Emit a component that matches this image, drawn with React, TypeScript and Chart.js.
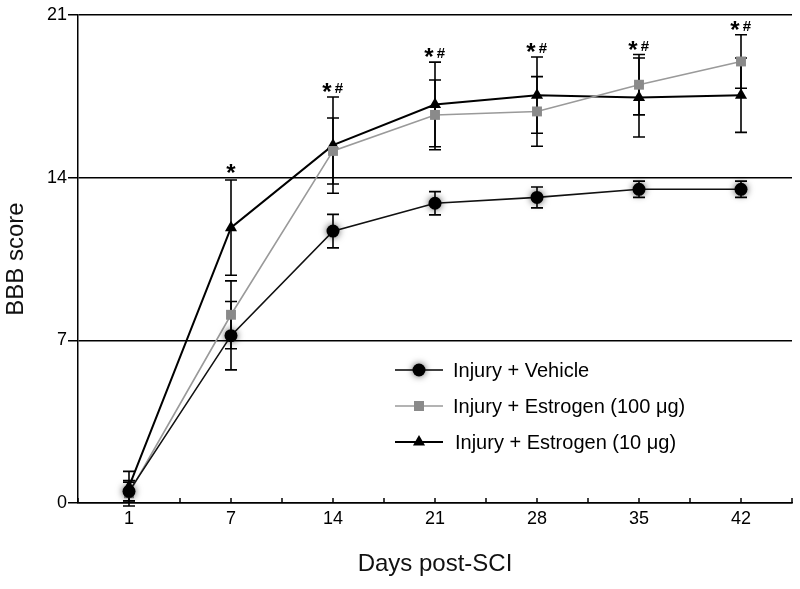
import { useEffect, useRef } from "react";
import { Chart, registerables } from "chart.js";

Chart.register(...registerables);

const days = ["1", "7", "14", "21", "28", "35", "42"];
const vehicle = [0.5, 7.2, 11.7, 12.9, 13.15, 13.5, 13.5];
const vehicleErr = [0.4, 1.47, 0.72, 0.5, 0.45, 0.35, 0.35];
const estrogen100 = [0.42, 8.1, 15.15, 16.7, 16.85, 18.0, 19.0];
const estrogen100Err = [0.55, 1.46, 1.42, 1.5, 1.5, 1.3, 1.15];
const estrogen10 = [0.7, 11.85, 15.4, 17.15, 17.55, 17.45, 17.55];
const estrogen10Err = [0.66, 2.05, 2.07, 1.82, 1.64, 1.7, 1.6];
const significance = ["", "*", "*#", "*#", "*#", "*#", "*#"];
const yTicks = [0, 7, 14, 21];
const legendLabels = [
  "Injury + Vehicle",
  "Injury + Estrogen (100 \u03bcg)",
  "Injury + Estrogen (10 \u03bcg)",
];

const FONT = "'Liberation Sans', Arial, Helvetica, sans-serif";
const GREY_LINE = "#9a9a9a";
const GREY_MARK = "#8a8a8a";

const toXY = (arr: number[]) => arr.map((v, i) => ({ x: i, y: v }));

const seriesForErrors = [
  { values: vehicle, errs: vehicleErr },
  { values: estrogen100, errs: estrogen100Err },
  { values: estrogen10, errs: estrogen10Err },
];

function drawMarker(ctx: CanvasRenderingContext2D, kind: string, x: number, y: number) {
  ctx.save();
  if (kind === "circle") {
    ctx.shadowColor = "rgba(0,0,0,0.65)";
    ctx.shadowBlur = 7;
    ctx.fillStyle = "#000";
    ctx.beginPath();
    ctx.arc(x, y, 6.5, 0, Math.PI * 2);
    ctx.fill();
  } else if (kind === "rect") {
    ctx.fillStyle = GREY_MARK;
    ctx.fillRect(x - 5, y - 5, 10, 10);
  } else {
    ctx.fillStyle = "#000";
    const r = 7;
    ctx.beginPath();
    ctx.moveTo(x, y - r);
    ctx.lineTo(x + r * 0.866, y + r * 0.5);
    ctx.lineTo(x - r * 0.866, y + r * 0.5);
    ctx.closePath();
    ctx.fill();
  }
  ctx.restore();
}

const customPlugin = {
  id: "custom",
  beforeDatasetsDraw(chart: any) {
    const { ctx } = chart;
    const xs = chart.scales.x;
    const ys = chart.scales.y;
    ctx.save();
    ctx.strokeStyle = "#000";
    ctx.lineWidth = 1.6;
    seriesForErrors.forEach(({ values, errs }) => {
      values.forEach((v, i) => {
        const x = xs.getPixelForValue(i);
        const yt = ys.getPixelForValue(v + errs[i]);
        const yb = ys.getPixelForValue(v - errs[i]);
        ctx.beginPath();
        ctx.moveTo(x, yt);
        ctx.lineTo(x, yb);
        ctx.moveTo(x - 6, yt);
        ctx.lineTo(x + 6, yt);
        ctx.moveTo(x - 6, yb);
        ctx.lineTo(x + 6, yb);
        ctx.stroke();
      });
    });
    ctx.restore();
  },
  beforeDatasetDraw(chart: any, args: any) {
    if (args.index === 0) {
      const { ctx } = chart;
      ctx.save();
      ctx.shadowColor = "rgba(0,0,0,0.65)";
      ctx.shadowBlur = 7;
    }
  },
  afterDatasetDraw(chart: any, args: any) {
    if (args.index === 0) chart.ctx.restore();
  },
  afterDraw(chart: any) {
    const { ctx, chartArea } = chart;
    const xs = chart.scales.x;
    const ys = chart.scales.y;
    ctx.save();
    // inward x tick marks
    ctx.strokeStyle = "#000";
    ctx.lineWidth = 1.5;
    xs.ticks.forEach((t: any) => {
      const x = xs.getPixelForValue(t.value);
      ctx.beginPath();
      ctx.moveTo(x, chartArea.bottom);
      ctx.lineTo(x, chartArea.bottom - 5);
      ctx.stroke();
    });
    // significance marks
    ctx.fillStyle = "#000";
    ctx.textAlign = "center";
    ctx.textBaseline = "alphabetic";
    significance.forEach((s, i) => {
      if (!s) return;
      let top = -Infinity;
      seriesForErrors.forEach(({ values, errs }) => {
        top = Math.max(top, values[i] + errs[i]);
      });
      const x = xs.getPixelForValue(i);
      const cap = ys.getPixelForValue(top);
      if (s.length === 1) {
        ctx.font = `bold 24px ${FONT}`;
        ctx.fillText("*", x, cap + 1);
      } else {
        ctx.font = `bold 24px ${FONT}`;
        ctx.fillText("*", x - 6, cap + 3);
        ctx.font = `bold 15px ${FONT}`;
        ctx.fillText("#", x + 6, cap - 4);
      }
    });
    // legend
    const lx = 395;
    const ly = 370;
    const gap = 36;
    const kinds = ["circle", "rect", "triangle"];
    const colors = ["#000", GREY_LINE, "#000"];
    const widths = [1.5, 1.5, 2];
    legendLabels.forEach((label, i) => {
      const y = ly + i * gap;
      ctx.strokeStyle = colors[i];
      ctx.lineWidth = widths[i];
      ctx.beginPath();
      ctx.moveTo(lx, y);
      ctx.lineTo(lx + 48, y);
      ctx.stroke();
      drawMarker(ctx, kinds[i], lx + 24, y);
      ctx.fillStyle = "#000";
      ctx.font = `20px ${FONT}`;
      ctx.textAlign = "left";
      ctx.textBaseline = "middle";
      ctx.fillText(label, lx + 58 + (i === 2 ? 2 : 0), y + 1);
    });
    ctx.restore();
  },
};

export default function App() {
  const ref = useRef<HTMLCanvasElement | null>(null);
  useEffect(() => {
    if (!ref.current) return;
    Chart.defaults.font.family = FONT;
    const chart = new Chart(ref.current, {
      type: "line",
      data: {
        datasets: [
          {
            label: legendLabels[0],
            data: toXY(vehicle),
            showLine: false,
            pointStyle: "circle",
            pointRadius: 6.5,
            pointBackgroundColor: "#000",
            pointBorderColor: "#000",
            pointBorderWidth: 0,
          },
          {
            label: "vehicle-line",
            data: toXY(vehicle),
            borderColor: "#111",
            borderWidth: 1.6,
            pointRadius: 0,
            tension: 0,
          },
          {
            label: legendLabels[1],
            data: toXY(estrogen100),
            borderColor: GREY_LINE,
            borderWidth: 1.6,
            pointStyle: "rect",
            pointRadius: 7,
            pointBackgroundColor: GREY_MARK,
            pointBorderColor: GREY_MARK,
            pointBorderWidth: 0,
            tension: 0,
          },
          {
            label: legendLabels[2],
            data: toXY(estrogen10),
            borderColor: "#000",
            borderWidth: 2,
            pointStyle: "triangle",
            pointRadius: 7,
            pointBackgroundColor: "#000",
            pointBorderColor: "#000",
            pointBorderWidth: 0,
            tension: 0,
          },
        ],
      },
      options: {
        responsive: false,
        animation: false,
        layout: { padding: { top: 15, right: 8, left: 0, bottom: 0 } },
        plugins: {
          legend: { display: false },
          tooltip: { enabled: false },
        },
        scales: {
          x: {
            type: "linear",
            min: -0.5,
            max: 6.5,
            afterBuildTicks: (s: any) => {
              const t = [];
              for (let k = 0; k <= 14; k++) t.push({ value: -0.5 + k * 0.5 });
              s.ticks = t;
            },
            afterFit: (s: any) => {
              s.height = 86;
            },
            ticks: {
              autoSkip: false,
              maxRotation: 0,
              padding: 5,
              color: "#000",
              font: { size: 18, family: FONT },
              callback: (v: any) => (Number.isInteger(v) ? days[v] : ""),
            },
            grid: { display: false, drawTicks: false },
            border: { display: true, color: "#000", width: 1.5 },
            title: {
              display: true,
              text: "Days post-SCI",
              color: "#111",
              font: { size: 24, family: FONT },
              padding: { top: 0, bottom: 10 },
            },
          },
          y: {
            min: 0,
            max: 21,
            afterBuildTicks: (s: any) => {
              s.ticks = yTicks.map((v) => ({ value: v }));
            },
            afterFit: (s: any) => {
              s.width = 78;
            },
            ticks: {
              padding: 1,
              color: "#000",
              font: { size: 18, family: FONT },
            },
            grid: {
              color: "#000",
              lineWidth: 1.5,
              drawTicks: true,
              tickLength: 10,
              tickColor: "#000",
            },
            border: { display: true, color: "#000", width: 1.5 },
            title: {
              display: true,
              text: "BBB score",
              color: "#111",
              font: { size: 24, family: FONT },
              padding: { top: 2, bottom: 0 },
            },
          },
        },
      },
      plugins: [customPlugin],
    });
    return () => chart.destroy();
  }, []);
  return (
    <div style={{ position: "absolute", left: 0, top: 0, width: 800, height: 589, background: "#fff" }}>
      <canvas ref={ref} width={800} height={589} />
    </div>
  );
}
